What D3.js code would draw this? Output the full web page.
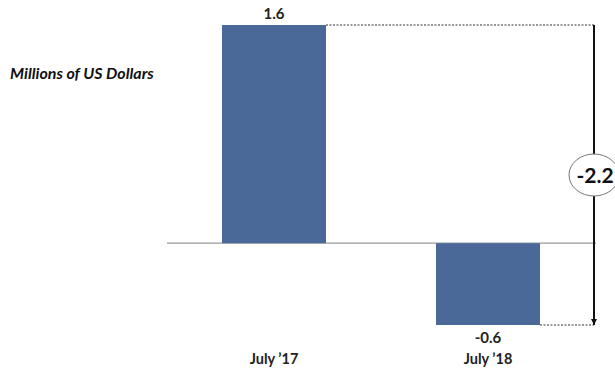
<!DOCTYPE html>
<html>
<head>
<meta charset="utf-8">
<script src="https://cdn.jsdelivr.net/npm/d3@7"></script>
<style>
  html, body { margin: 0; padding: 0; background: #fff; }
  svg { display: block; }
  text { font-family: Lato, "Open Sans", sans-serif; }
</style>
</head>
<body>
<script>
// Chart data
const categories = ["July \u201917", "July \u201918"];
const values = [1.6, -0.6];
const changeLabel = "-2.2";
const unitLabel = "Millions of US Dollars";

const W = 615, H = 370;
const svg = d3.select("body").append("svg").attr("width", W).attr("height", H);

const x = d3.scaleBand().domain(categories).range([167, 595])
  .paddingInner(0.514).paddingOuter(0.257);
const y = d3.scaleLinear().domain([d3.min(values), d3.max(values)]).range([325, 25]);

const barColor = "#4a6898";
const font = "Lato, 'Open Sans', sans-serif";

// zero baseline
svg.append("line")
  .attr("x1", 167).attr("x2", 596)
  .attr("y1", y(0)).attr("y2", y(0))
  .attr("stroke", "#9a9a9a").attr("stroke-width", 1.2);

// bars
svg.selectAll("rect.bar").data(values).enter().append("rect")
  .attr("class", "bar")
  .attr("x", (d, i) => x(categories[i]))
  .attr("width", x.bandwidth())
  .attr("y", d => y(Math.max(0, d)))
  .attr("height", d => Math.abs(y(d) - y(0)))
  .attr("fill", barColor);

// value labels
svg.selectAll("text.val").data(values).enter().append("text")
  .attr("class", "val")
  .attr("x", (d, i) => x(categories[i]) + x.bandwidth() / 2)
  .attr("y", d => d >= 0 ? y(d) - 6 : y(d) + 18)
  .attr("text-anchor", "middle")
  .attr("font-size", 15).attr("font-weight", 700).attr("fill", "#222")
  .text(d => d.toFixed(1));

// category axis labels
const xAxis = svg.append("g").attr("transform", `translate(0,${350})`)
  .call(d3.axisBottom(x).tickSize(0).tickPadding(4));
xAxis.select(".domain").remove();
xAxis.selectAll("text")
  .attr("font-family", font)
  .attr("font-size", 14.5).attr("font-weight", 700).attr("fill", "#222");

// unit label
svg.append("text")
  .attr("x", 10).attr("y", 79)
  .attr("font-size", 16).attr("font-weight", 700).attr("font-style", "italic")
  .attr("fill", "#111")
  .text(unitLabel);

// change annotation
const ax = 594;
const topY = y(values[0]), botY = y(values[1]);
svg.append("line")
  .attr("x1", x(categories[0]) + x.bandwidth()).attr("x2", ax)
  .attr("y1", topY).attr("y2", topY)
  .attr("stroke", "#333").attr("stroke-width", 1).attr("stroke-dasharray", "2,1.5");
svg.append("line")
  .attr("x1", x(categories[1]) + x.bandwidth()).attr("x2", ax)
  .attr("y1", botY).attr("y2", botY)
  .attr("stroke", "#333").attr("stroke-width", 1).attr("stroke-dasharray", "2,1.5");

const defs = svg.append("defs");
defs.append("marker")
  .attr("id", "arrow").attr("viewBox", "0 0 10 10")
  .attr("refX", 10).attr("refY", 5)
  .attr("markerWidth", 6).attr("markerHeight", 6)
  .attr("markerUnits", "userSpaceOnUse")
  .attr("orient", "auto")
  .append("path").attr("d", "M0,0L10,5L0,10Z").attr("fill", "#111");

svg.append("line")
  .attr("x1", ax).attr("x2", ax)
  .attr("y1", topY).attr("y2", botY)
  .attr("stroke", "#111").attr("stroke-width", 2)
  .attr("marker-end", "url(#arrow)");

const cy = 175;
svg.append("ellipse")
  .attr("cx", ax).attr("cy", cy).attr("rx", 25).attr("ry", 21)
  .attr("fill", "#fff").attr("stroke", "#777").attr("stroke-width", 1);
svg.append("text")
  .attr("x", ax + 1).attr("y", cy + 7.5)
  .attr("text-anchor", "middle")
  .attr("font-size", 21).attr("font-weight", 700).attr("fill", "#111")
  .text(changeLabel);
</script>
</body>
</html>
